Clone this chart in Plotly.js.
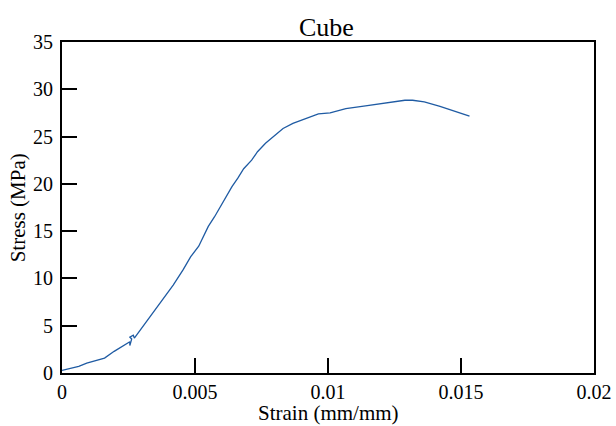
<!DOCTYPE html>
<html><head><meta charset="utf-8">
<script src="https://cdn.plot.ly/plotly-3.0.1.min.js"></script>
<style>html,body{margin:0;padding:0;background:#fff}#chart{width:616px;height:426px}</style>
</head><body><div id="chart"></div>
<script>
var strain = [0, 0.00063, 0.00093, 0.0016, 0.00196, 0.0024, 0.00255, 0.00255, 0.00262, 0.00255, 0.00268, 0.00272, 0.00285, 0.00314, 0.00351, 0.00388, 0.00418, 0.00455, 0.00484, 0.00514, 0.00536, 0.0055, 0.00573, 0.00595, 0.00617, 0.00639, 0.00661, 0.00683, 0.00713, 0.00735, 0.00765, 0.00794, 0.00831, 0.00868, 0.00905, 0.00934, 0.00964, 0.01008, 0.01067, 0.01141, 0.01215, 0.01289, 0.01318, 0.01362, 0.01421, 0.0148, 0.01532];
var stress = [0.28, 0.7, 1.05, 1.58, 2.29, 3.0, 3.3, 2.9, 3.6, 3.8, 4.0, 3.7, 4.2, 5.28, 6.7, 8.1, 9.3, 10.9, 12.3, 13.4, 14.8, 15.5, 16.5, 17.6, 18.6, 19.7, 20.6, 21.6, 22.5, 23.4, 24.3, 25.0, 25.85, 26.4, 26.8, 27.1, 27.4, 27.5, 27.96, 28.24, 28.56, 28.84, 28.84, 28.67, 28.2, 27.6, 27.15];
var xTicks = [0, 0.005, 0.01, 0.015, 0.02];
var xTickText = ["0", "0.005", "0.01", "0.015", "0.02"];
var yTicks = [0, 5, 10, 15, 20, 25, 30, 35];
var xTitle = "Strain (mm/mm)";
var yTitle = "Stress (MPa)";

var font = "Liberation Serif, Times New Roman, serif";
Plotly.newPlot("chart", [{
  x: strain, y: stress, type: "scatter", mode: "lines",
  line: {color: "#1f5ba3", width: 1.3}, hoverinfo: "skip"
}], {
  width: 616, height: 426,
  margin: {l: 62, r: 22, t: 42, b: 53},
  paper_bgcolor: "#fff", plot_bgcolor: "#fff",
  showlegend: false,
  title: {text: "Cube", font: {family: font, size: 26, color: "#000"}, x: 0.53, xanchor: "center", y: 0.937, yanchor: "middle", yref: "container"},
  annotations: [{
    text: xTitle, xref: "paper", yref: "paper", x: 0.5, y: -0.121,
    xanchor: "center", yanchor: "middle", showarrow: false,
    font: {family: font, size: 21, color: "#000"}
  }, {
    text: yTitle, xref: "paper", yref: "paper", x: -0.083, y: 0.5,
    xanchor: "center", yanchor: "middle", showarrow: false, textangle: -90,
    font: {family: font, size: 21, color: "#000"}
  }],
  xaxis: {
    range: [0, 0.02], tickvals: xTicks, ticktext: xTickText,
    ticks: "inside", ticklen: 15, tickwidth: 2, tickcolor: "#000",
    showline: true, linewidth: 2, linecolor: "#000", mirror: true,
    showgrid: false, zeroline: false, automargin: false,
    tickfont: {family: font, size: 20, color: "#000"}
  },
  yaxis: {
    range: [0, 35], tickvals: yTicks,
    ticks: "inside", ticklen: 15, tickwidth: 2, tickcolor: "#000",
    showline: true, linewidth: 2, linecolor: "#000", mirror: true,
    showgrid: false, zeroline: false, automargin: false,
    ticklabelstandoff: 3,
    tickfont: {family: font, size: 20, color: "#000"}
  }
}, {displayModeBar: false, staticPlot: true});
</script></body></html>
